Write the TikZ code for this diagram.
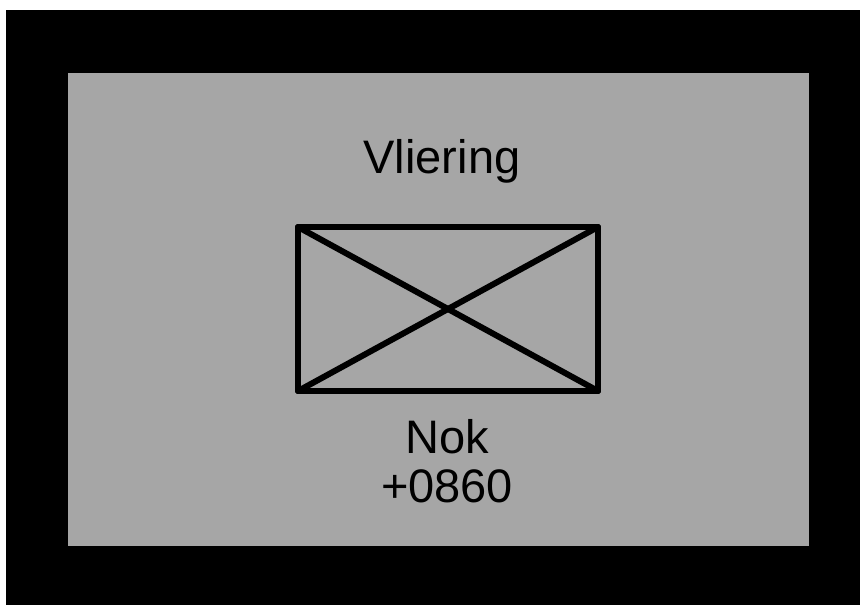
\documentclass[tikz,border=0pt]{standalone}
\usepackage{fontspec}
\setmainfont{Liberation Sans}
\usetikzlibrary{positioning}
\definecolor{atticgray}{HTML}{A6A6A6}

\begin{document}
\begin{tikzpicture}[x=1pt, y=-1pt, every node/.style={font=\fontsize{47}{49}\selectfont}]
	\useasboundingbox (0,0) rectangle (860,605);

	% Draw the frame
	\fill[black] (6,10) rectangle (860,605);
	\fill[atticgray] (68,73) rectangle (809,546);

	% Name of the room
	\node[anchor=base] (room) at (442,173) {Vliering};

	% Draw the hatch with the cross
	\node[draw, line width=6pt, line join=round, minimum width=300pt, minimum height=164pt, inner sep=0pt, outer sep=0pt] (hatch) at (448,309) {};
	\draw[line width=6pt, line cap=round] (hatch.north west) -- (hatch.south east);
	\draw[line width=6pt, line cap=round] (hatch.south west) -- (hatch.north east);

	% Level below the hatch
	\node[anchor=base] (nok) at (447,453) {Nok};
	\node[anchor=base] (level) at (447,502) {+0860};

\end{tikzpicture}
\end{document}
